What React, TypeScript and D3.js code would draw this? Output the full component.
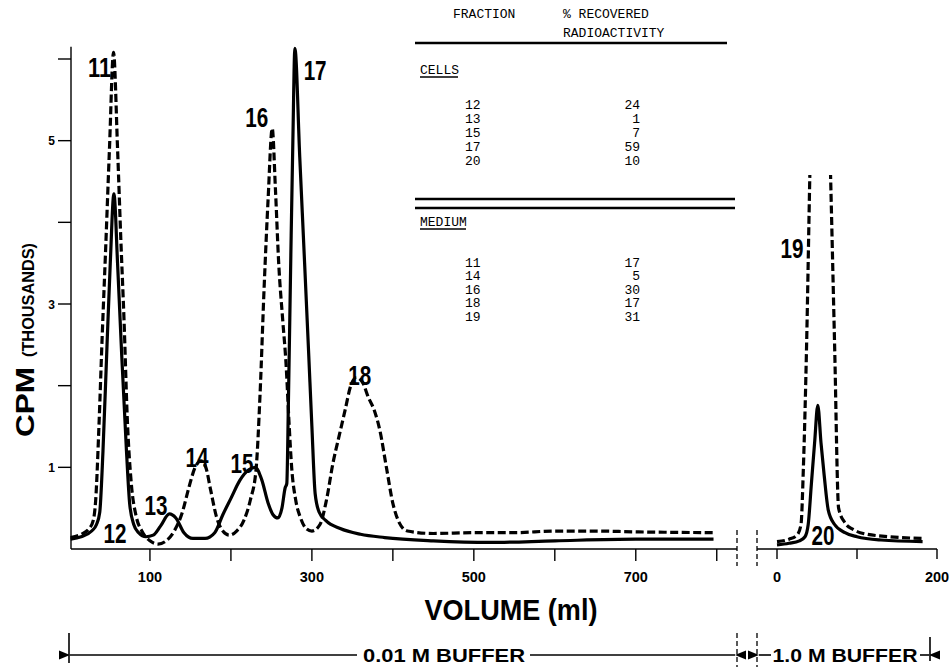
import React from 'react';
import * as d3 from 'd3';

// 0.01 M buffer elution, [volume (ml), cpm (thousands)]
const cellsLow: [number, number][] = [
  [2, 0.12], [15, 0.15], [28, 0.22], [34, 0.3], [38, 0.45], [42, 1.2], [47, 2.5], [51, 3.5],
  [55.5, 4.35], [60, 3.5], [65, 2.4], [71, 1.2], [75, 0.55], [80, 0.3], [86, 0.2], [95, 0.15],
  [104, 0.17], [113, 0.28], [124, 0.43], [132, 0.38], [142, 0.2], [153, 0.13], [168, 0.13],
  [180, 0.2], [190, 0.42], [200, 0.62], [211, 0.84], [222, 0.97], [230, 1.0], [238, 0.85],
  [246, 0.56], [252, 0.42], [258, 0.38], [263, 0.5], [267, 0.75], [269, 0.8], [271, 1.8],
  [274, 3.6], [276.5, 5.0], [279, 6.13], [285, 4.8], [291, 3.5], [296, 2.4], [300, 1.5],
  [304, 0.68], [309, 0.45], [317, 0.35], [335, 0.25], [360, 0.18], [390, 0.14], [450, 0.1],
  [520, 0.08], [600, 0.1], [700, 0.12], [796, 0.12],
];
const mediumLow: [number, number][] = [
  [2, 0.14], [15, 0.18], [25, 0.25], [30, 0.35], [33, 0.6], [37, 1.5], [41, 2.6], [45, 3.6],
  [50, 4.9], [55, 6.08], [60, 4.9], [64, 3.8], [68, 2.8], [72, 1.6], [77, 0.8], [83, 0.4],
  [90, 0.22], [100, 0.1], [110, 0.06], [120, 0.1], [130, 0.22], [140, 0.45], [148, 0.75],
  [155, 0.98], [163, 1.08], [169, 1.0], [175, 0.72], [182, 0.4], [190, 0.22], [198, 0.17],
  [207, 0.22], [216, 0.35], [224, 0.6], [231, 0.97], [236, 1.9], [241, 3.2], [246, 4.3],
  [251, 5.15], [255, 4.4], [259, 3.5], [264, 2.8], [268, 2.28], [272, 1.5], [275, 1.0],
  [280, 0.6], [286, 0.38], [293, 0.25], [300, 0.22], [310, 0.3], [318, 0.6], [326, 1.05],
  [334, 1.4], [341, 1.7], [348, 2.0], [355, 2.1], [362, 2.05], [370, 1.85], [377, 1.7],
  [384, 1.45], [392, 1.0], [400, 0.56], [408, 0.32], [418, 0.22], [450, 0.19], [500, 0.2],
  [550, 0.2], [600, 0.22], [650, 0.22], [700, 0.21], [796, 0.2],
];

// 1.0 M buffer elution
const cellsHigh: [number, number][] = [
  [0, 0.05], [15, 0.07], [28, 0.1], [35, 0.15], [39, 0.3], [43, 0.8], [47, 1.3], [51, 1.76],
  [55, 1.3], [59, 0.9], [64, 0.48], [72, 0.3], [85, 0.2], [100, 0.15], [130, 0.11], [182, 0.09],
];
const mediumHigh: [number, number][] = [
  [0, 0.09], [15, 0.12], [25, 0.17], [30, 0.3], [33, 1.0], [37, 2.5], [41, 4.56], [54, 9.3],
  [67, 4.56], [72, 2.5], [77, 0.5], [85, 0.32], [95, 0.24], [104, 0.2], [140, 0.15], [185, 0.13],
];
const highClipTop = 4.58; // the 19 peak runs off the top of the figure

const lowTicks = [100, 200, 300, 400, 500, 600, 700, 800];
const lowTickLabels = [100, 300, 500, 700];
const highTicks = [0, 100, 200];
const highTickLabels = [0, 200];
const yTicks = [1, 2, 3, 4, 5, 6];
const yTickLabels = [1, 3, 5];

// peak numbers: [label, volume, cpm]
const peakLabelsLow: [string, number, number][] = [
  ['11', 37.7, 5.78], ['12', 56.8, 0.07], ['13', 107.5, 0.42], ['14', 158, 1.0],
  ['15', 213.7, 0.93], ['16', 232, 5.17], ['17', 304, 5.74], ['18', 359, 2.01],
];
const peakLabelsHigh: [string, number, number][] = [['19', 18.75, 3.56], ['20', 57.5, 0.05]];

const tableHead = ['FRACTION', '% RECOVERED', 'RADIOACTIVITY'];
const cellsFractions = ['12', '13', '15', '17', '20'];
const cellsPercent = ['24', '1', '7', '59', '10'];
const mediumFractions = ['11', '14', '16', '18', '19'];
const mediumPercent = ['17', '5', '30', '17', '31'];

const SANS = "'Liberation Sans', Arial, sans-serif";
const MONO = "'Liberation Mono', 'DejaVu Sans Mono', monospace";

export default function App() {
  const W = 951;
  const H = 667;
  const xLow = d3.scaleLinear().domain([2.5, 825]).range([71, 737]);
  const xHigh = d3.scaleLinear().domain([-25, 200]).range([757, 937]);
  const y = d3.scaleLinear().domain([0, 6]).range([549, 59]);

  const lineLow = d3.line<[number, number]>().x(d => xLow(d[0])).y(d => y(d[1])).curve(d3.curveMonotoneX);
  const lineHigh = d3.line<[number, number]>().x(d => xHigh(d[0])).y(d => y(d[1])).curve(d3.curveMonotoneX);

  const y0 = y(0);
  const dash = '8 3.5';
  const lw = 3.2;

  // peak number label, squeezed to the narrow figure lettering
  const peakText = (s: string, x: number, yy: number) => (
    <text key={s} x={x - 11.5} y={yy} fontFamily={SANS} fontWeight="bold" fontSize={27}
      textLength={23} lengthAdjust="spacingAndGlyphs">{s}</text>
  );

  return (
    <svg width={W} height={H} style={{ position: 'absolute', left: 0, top: 0, background: '#fff' }}>
      <defs>
        <clipPath id="clipHigh">
          <rect x={745} y={y(highClipTop)} width={200} height={H} />
        </clipPath>
        <marker id="arrL" viewBox="0 0 10 10" refX="0" refY="5" markerWidth="7" markerHeight="7" orient="auto-start-reverse">
          <path d="M10,1 L0,5 L10,9 Z" fill="#000" />
        </marker>
      </defs>

      {/* y axis */}
      <line x1={71} x2={71} y1={y(6.15)} y2={y0} stroke="#000" strokeWidth={1.4} />
      {yTicks.map(t => (
        <line key={t} x1={58} x2={71} y1={y(t)} y2={y(t)} stroke="#000" strokeWidth={1.4} />
      ))}
      {yTickLabels.map(t => (
        <text key={t} x={55} y={y(t) + 4.5} textAnchor="end" fontFamily={SANS} fontWeight="bold" fontSize={12}>{t}</text>
      ))}
      <text transform="translate(34,437) rotate(-90)" fontFamily={SANS} fontWeight="bold" fontSize={25} textLength={70} lengthAdjust="spacingAndGlyphs">CPM</text>
      <text transform="translate(34,357) rotate(-90)" fontFamily={SANS} fontWeight="bold" fontSize={17} textLength={114} lengthAdjust="spacingAndGlyphs">(THOUSANDS)</text>

      {/* x axis, 0.01 M panel */}
      <line x1={71} x2={737} y1={y0} y2={y0} stroke="#000" strokeWidth={1.4} />
      {lowTicks.map(t => (
        <line key={t} x1={xLow(t)} x2={xLow(t)} y1={y0} y2={y0 + 12} stroke="#000" strokeWidth={1.4} />
      ))}
      {lowTickLabels.map(t => (
        <text key={t} x={xLow(t)} y={582} textAnchor="middle" fontFamily={SANS} fontWeight="bold" fontSize={14.5}>{t}</text>
      ))}

      {/* x axis, 1.0 M panel */}
      <line x1={757} x2={937} y1={y0} y2={y0} stroke="#000" strokeWidth={1.4} />
      {highTicks.map(t => (
        <line key={t} x1={xHigh(t)} x2={xHigh(t)} y1={y0} y2={y0 + 10} stroke="#000" strokeWidth={1.4} />
      ))}
      {highTickLabels.map(t => (
        <text key={t} x={xHigh(t)} y={582} textAnchor="middle" fontFamily={SANS} fontWeight="bold" fontSize={14.5}>{t}</text>
      ))}

      {/* axis break */}
      {[737, 757].map(x => (
        <g key={x}>
          <line x1={x} x2={x} y1={530} y2={566} stroke="#000" strokeWidth={1.3} strokeDasharray="5 3" />
          <line x1={x} x2={x} y1={633} y2={667} stroke="#000" strokeWidth={1.3} strokeDasharray="5 3" />
        </g>
      ))}

      <text x={511} y={620} textAnchor="middle" fontFamily={SANS} fontWeight="bold" fontSize={30} textLength={173} lengthAdjust="spacingAndGlyphs">VOLUME (ml)</text>

      {/* curves, 0.01 M */}
      <path d={lineLow(mediumLow) ?? ''} fill="none" stroke="#000" strokeWidth={lw} strokeDasharray={dash} />
      <path d={lineLow(cellsLow) ?? ''} fill="none" stroke="#000" strokeWidth={lw} />

      {/* curves, 1.0 M */}
      <g clipPath="url(#clipHigh)">
        <path d={lineHigh(mediumHigh) ?? ''} fill="none" stroke="#000" strokeWidth={lw} strokeDasharray={dash} />
        <path d={lineHigh(cellsHigh) ?? ''} fill="none" stroke="#000" strokeWidth={lw} />
      </g>

      {peakLabelsLow.map(([s, v, c]) => peakText(s, xLow(v), y(c)))}
      {peakLabelsHigh.map(([s, v, c]) => peakText(s, xHigh(v), y(c)))}

      {/* buffer annotations */}
      <line x1={69} x2={69} y1={633} y2={663} stroke="#000" strokeWidth={1.6} />
      <line x1={70} x2={357} y1={655} y2={655} stroke="#000" strokeWidth={1.6} markerStart="url(#arrL)" />
      <text x={444} y={662} textAnchor="middle" fontFamily={SANS} fontWeight="bold" fontSize={19} textLength={162} lengthAdjust="spacingAndGlyphs">0.01 M BUFFER</text>
      <line x1={530} x2={735} y1={655} y2={655} stroke="#000" strokeWidth={1.6} markerEnd="url(#arrL)" />
      <line x1={759} x2={771} y1={655} y2={655} stroke="#000" strokeWidth={1.6} markerStart="url(#arrL)" />
      <text x={845} y={662} textAnchor="middle" fontFamily={SANS} fontWeight="bold" fontSize={19} textLength={145} lengthAdjust="spacingAndGlyphs">1.0 M BUFFER</text>
      <line x1={920} x2={929} y1={655} y2={655} stroke="#000" strokeWidth={1.6} markerEnd="url(#arrL)" />
      <line x1={930} x2={930} y1={637} y2={661} stroke="#000" strokeWidth={1.6} />

      {/* table */}
      <g fontFamily={MONO} fontSize={13} fill="#000">
        <text x={453} y={18}>{tableHead[0]}</text>
        <text x={563} y={18}>{tableHead[1]}</text>
        <text x={563} y={37}>{tableHead[2]}</text>
        <line x1={415} x2={727} y1={43} y2={43} stroke="#000" strokeWidth={2.6} />
        <text x={420} y={74}>CELLS</text>
        <line x1={420} x2={458} y1={77} y2={77} stroke="#000" strokeWidth={1.3} />
        {cellsFractions.map((f, i) => (
          <g key={f}>
            <text x={465} y={108.5 + i * 14}>{f}</text>
            <text x={640} y={108.5 + i * 14} textAnchor="end">{cellsPercent[i]}</text>
          </g>
        ))}
        <line x1={415} x2={735} y1={199} y2={199} stroke="#000" strokeWidth={2.3} />
        <line x1={415} x2={735} y1={208} y2={208} stroke="#000" strokeWidth={2.3} />
        <text x={420} y={226}>MEDIUM</text>
        <line x1={420} x2={466} y1={229} y2={229} stroke="#000" strokeWidth={1.3} />
        {mediumFractions.map((f, i) => (
          <g key={f}>
            <text x={465} y={266.5 + i * 13.6}>{f}</text>
            <text x={640} y={266.5 + i * 13.6} textAnchor="end">{mediumPercent[i]}</text>
          </g>
        ))}
      </g>
    </svg>
  );
}
